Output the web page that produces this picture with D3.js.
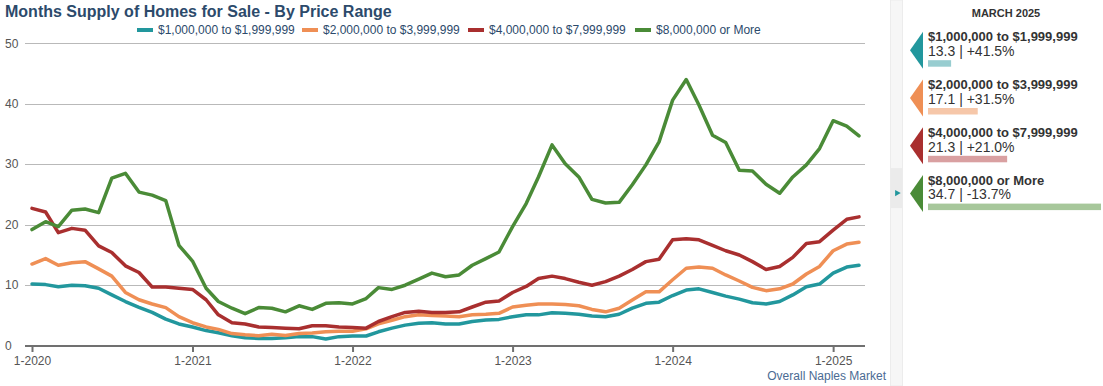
<!DOCTYPE html>
<html>
<head>
<meta charset="utf-8">
<script src="https://cdn.jsdelivr.net/npm/d3@7"></script>
<style>
  html, body { margin: 0; padding: 0; background: #fff; }
  svg { display: block; font-family: "Liberation Sans", Arial, sans-serif; }
</style>
</head>
<body>
<svg id="chart" width="1103" height="386"></svg>
<script>
// ─── Data ────────────────────────────────────────────────────────────
const startMonth = new Date(2020, 0, 1);
const monthCount = 63; // Jan 2020 .. Mar 2025

const seriesNames = [
  "$1,000,000 to $1,999,999",
  "$2,000,000 to $3,999,999",
  "$4,000,000 to $7,999,999",
  "$8,000,000 or More"
];

const tier1 = [10.2, 10.1, 9.75, 10.0, 9.9, 9.5, 8.4, 7.3, 6.35, 5.5, 4.4, 3.6,
  3.1, 2.5, 2.15, 1.65, 1.3, 1.2, 1.2, 1.3, 1.5, 1.5, 1.1, 1.5,
  1.6, 1.6, 2.3, 2.9, 3.4, 3.7, 3.8, 3.6, 3.6, 4.0, 4.25, 4.35,
  4.8, 5.1, 5.1, 5.45, 5.35, 5.2, 4.9, 4.8, 5.2, 6.2, 7.0, 7.2,
  8.3, 9.2, 9.4, 8.8, 8.2, 7.7, 7.1, 6.9, 7.3, 8.4, 9.75, 10.2,
  12.0, 13.0, 13.3];

const tier2 = [13.5, 14.4, 13.3, 13.7, 13.9, 12.7, 11.5, 8.8, 7.6, 6.9, 6.3, 4.8,
  3.8, 3.1, 2.7, 2.0, 1.8, 1.65, 1.9, 1.7, 2.0, 2.1, 2.3, 2.4,
  2.4, 2.8, 3.6, 4.2, 4.8, 5.1, 5.0, 4.9, 4.8, 5.1, 5.2, 5.35,
  6.4, 6.7, 6.9, 6.9, 6.8, 6.6, 6.0, 5.6, 6.2, 7.55, 8.9, 8.9,
  10.9, 12.8, 13.0, 12.8, 11.7, 10.7, 9.65, 9.1, 9.4, 10.2, 11.85, 13.1,
  15.7, 16.8, 17.1];

const tier3 = [22.7, 22.1, 18.7, 19.4, 19.1, 16.5, 15.4, 13.2, 12.1, 9.7, 9.7, 9.5,
  9.3, 7.6, 5.1, 3.8, 3.6, 3.1, 3.0, 2.9, 2.8, 3.3, 3.3, 3.1,
  3.0, 2.9, 4.0, 4.8, 5.5, 5.7, 5.5, 5.5, 5.6, 6.4, 7.2, 7.4,
  8.8, 9.8, 11.1, 11.5, 11.1, 10.5, 10.0, 10.6, 11.5, 12.6, 13.9, 14.3,
  17.5, 17.7, 17.5, 16.6, 15.7, 15.0, 13.9, 12.6, 13.1, 14.6, 16.9, 17.2,
  19.1, 20.9, 21.3];

const tier4 = [19.2, 20.5, 19.7, 22.4, 22.6, 22.0, 27.7, 28.5, 25.4, 24.9, 24.0, 16.6,
  14.0, 9.5, 7.3, 6.2, 5.3, 6.3, 6.2, 5.6, 6.6, 6.0, 7.0, 7.1,
  6.9, 7.8, 9.6, 9.3, 10.0, 11.0, 12.0, 11.4, 11.7, 13.3, 14.4, 15.5,
  19.7, 23.5, 27.9, 33.2, 30.1, 27.9, 24.2, 23.6, 23.7, 26.6, 29.9, 33.7,
  40.6, 44.0, 39.8, 34.8, 33.6, 29.0, 28.9, 26.7, 25.2, 27.9, 29.9, 32.6,
  37.2, 36.3, 34.7];

const seriesValues = [tier1, tier2, tier3, tier4];
const yearChange = ["+41.5%", "+31.5%", "+21.0%", "-13.7%"];
const yTicks = [0, 10, 20, 30, 40, 50];
const panelTitle = "MARCH 2025";

// ─── Style ───────────────────────────────────────────────────────────
const colors = ["#22979d", "#ef8f55", "#a92f2f", "#4a8b37"];
const lightColors = ["#98cdd0", "#f6c7a9", "#d9a0a1", "#a7c79b"];
const titleColor = "#2c4a6b";

const svg = d3.select("#chart");

// ─── Scales ──────────────────────────────────────────────────────────
const months = d3.range(monthCount).map((i) => d3.timeMonth.offset(startMonth, i));

const x = d3.scaleTime()
  .domain([months[0], months[monthCount - 1]])
  .range([32, 859]);

const y = d3.scaleLinear()
  .domain([0, 50])
  .range([345.7, 43.3]);

const plotLeft = 25;
const plotRight = 865;

// ─── Title ───────────────────────────────────────────────────────────
svg.append("text")
  .attr("x", 5)
  .attr("y", 17)
  .attr("font-size", 16)
  .attr("font-weight", "bold")
  .attr("fill", titleColor)
  .text("Months Supply of Homes for Sale - By Price Range");

// ─── Legend ──────────────────────────────────────────────────────────
const legendX = [137, 302, 468, 635];
const legend = svg.append("g").attr("transform", "translate(0,30)");
seriesNames.forEach((name, i) => {
  const item = legend.append("g").attr("transform", `translate(${legendX[i]},0)`);
  item.append("rect")
    .attr("x", 0).attr("y", -2)
    .attr("width", 16).attr("height", 4)
    .attr("fill", colors[i]);
  item.append("text")
    .attr("x", 21)
    .attr("dy", "0.35em")
    .attr("font-size", 12)
    .attr("fill", titleColor)
    .text(name);
});

// ─── Grid ────────────────────────────────────────────────────────────
svg.append("g")
  .selectAll("line")
  .data(yTicks.filter((d) => d > 0))
  .join("line")
  .attr("x1", plotLeft)
  .attr("x2", plotRight)
  .attr("y1", (d) => Math.round(y(d)) + 0.5)
  .attr("y2", (d) => Math.round(y(d)) + 0.5)
  .attr("stroke", "#b9b9b9")
  .attr("stroke-width", 1);

svg.append("g")
  .selectAll("text")
  .data(yTicks)
  .join("text")
  .attr("x", 5)
  .attr("y", (d) => y(d))
  .attr("dy", "0.35em")
  .attr("font-size", 12)
  .attr("fill", "#555")
  .text((d) => d);

// ─── X Axis ──────────────────────────────────────────────────────────
const xAxis = svg.append("g")
  .attr("transform", `translate(0,${Math.round(y(0))})`)
  .call(d3.axisBottom(x)
    .ticks(d3.timeYear.every(1))
    .tickFormat(d3.timeFormat("%-m-%Y"))
    .tickSize(6)
    .tickSizeOuter(0)
    .tickPadding(4));

xAxis.select(".domain").remove();
xAxis.insert("line", ":first-child")
  .attr("x1", plotLeft)
  .attr("x2", plotRight)
  .attr("stroke", "#707070")
  .attr("stroke-width", 2);
xAxis.selectAll(".tick line").attr("stroke", "#707070").attr("stroke-width", 2);
xAxis.selectAll(".tick text")
  .attr("font-family", "Liberation Sans, Arial, sans-serif")
  .attr("font-size", 12)
  .attr("fill", "#555");

// ─── Lines ───────────────────────────────────────────────────────────
const line = d3.line()
  .x((d, i) => x(months[i]))
  .y((d) => y(d));

seriesValues.forEach((vals, i) => {
  svg.append("path")
    .datum(vals)
    .attr("fill", "none")
    .attr("stroke", colors[i])
    .attr("stroke-width", 3.5)
    .attr("stroke-linejoin", "round")
    .attr("stroke-linecap", "round")
    .attr("d", line);
});

svg.append("text")
  .attr("x", 886)
  .attr("y", 380)
  .attr("text-anchor", "end")
  .attr("font-size", 12)
  .attr("fill", "#4b6b93")
  .text("Overall Naples Market");

// ─── Side Panel ──────────────────────────────────────────────────────
const selected = 3;
const panelTop = 36.7;
const rowStep = 47.8;

svg.append("rect")
  .attr("x", 890.5).attr("y", 0)
  .attr("width", 12).attr("height", 386)
  .attr("fill", "#f6f6f6")
  .attr("stroke", "#ececec");

svg.append("rect")
  .attr("x", 891).attr("y", panelTop + selected * rowStep - 12)
  .attr("width", 11).attr("height", 40)
  .attr("fill", "#ebebeb");

svg.append("path")
  .attr("d", d3.symbol(d3.symbolTriangle, 18)())
  .attr("transform", `translate(897,${panelTop + selected * rowStep + 13}) rotate(90)`)
  .attr("fill", colors[0]);

svg.append("text")
  .attr("x", 1006)
  .attr("y", 13)
  .attr("dy", "0.35em")
  .attr("text-anchor", "middle")
  .attr("font-size", 11)
  .attr("font-weight", "bold")
  .attr("fill", "#333")
  .text(panelTitle);

const last = seriesValues.map((s) => s[s.length - 1]);
const barScale = d3.scaleLinear()
  .domain([10, d3.max(last)])
  .range([0, 173]);

seriesNames.forEach((name, i) => {
  const row = svg.append("g")
    .attr("transform", `translate(0,${panelTop + i * rowStep})`);

  row.append("path")
    .attr("d", "M923,-5 L910,13.5 L923,32 Z")
    .attr("fill", colors[i]);

  row.append("text")
    .attr("x", 928)
    .attr("dy", "0.35em")
    .attr("font-size", 13)
    .attr("font-weight", "bold")
    .attr("fill", "#333")
    .text(name);

  row.append("text")
    .attr("x", 928)
    .attr("y", 14.5)
    .attr("dy", "0.35em")
    .attr("font-size", 14)
    .attr("fill", "#333")
    .text(`${last[i]} | ${yearChange[i]}`);

  row.append("rect")
    .attr("x", 928)
    .attr("y", 23.5)
    .attr("width", barScale(last[i]))
    .attr("height", 6.5)
    .attr("fill", lightColors[i]);
});
</script>
</body>
</html>
